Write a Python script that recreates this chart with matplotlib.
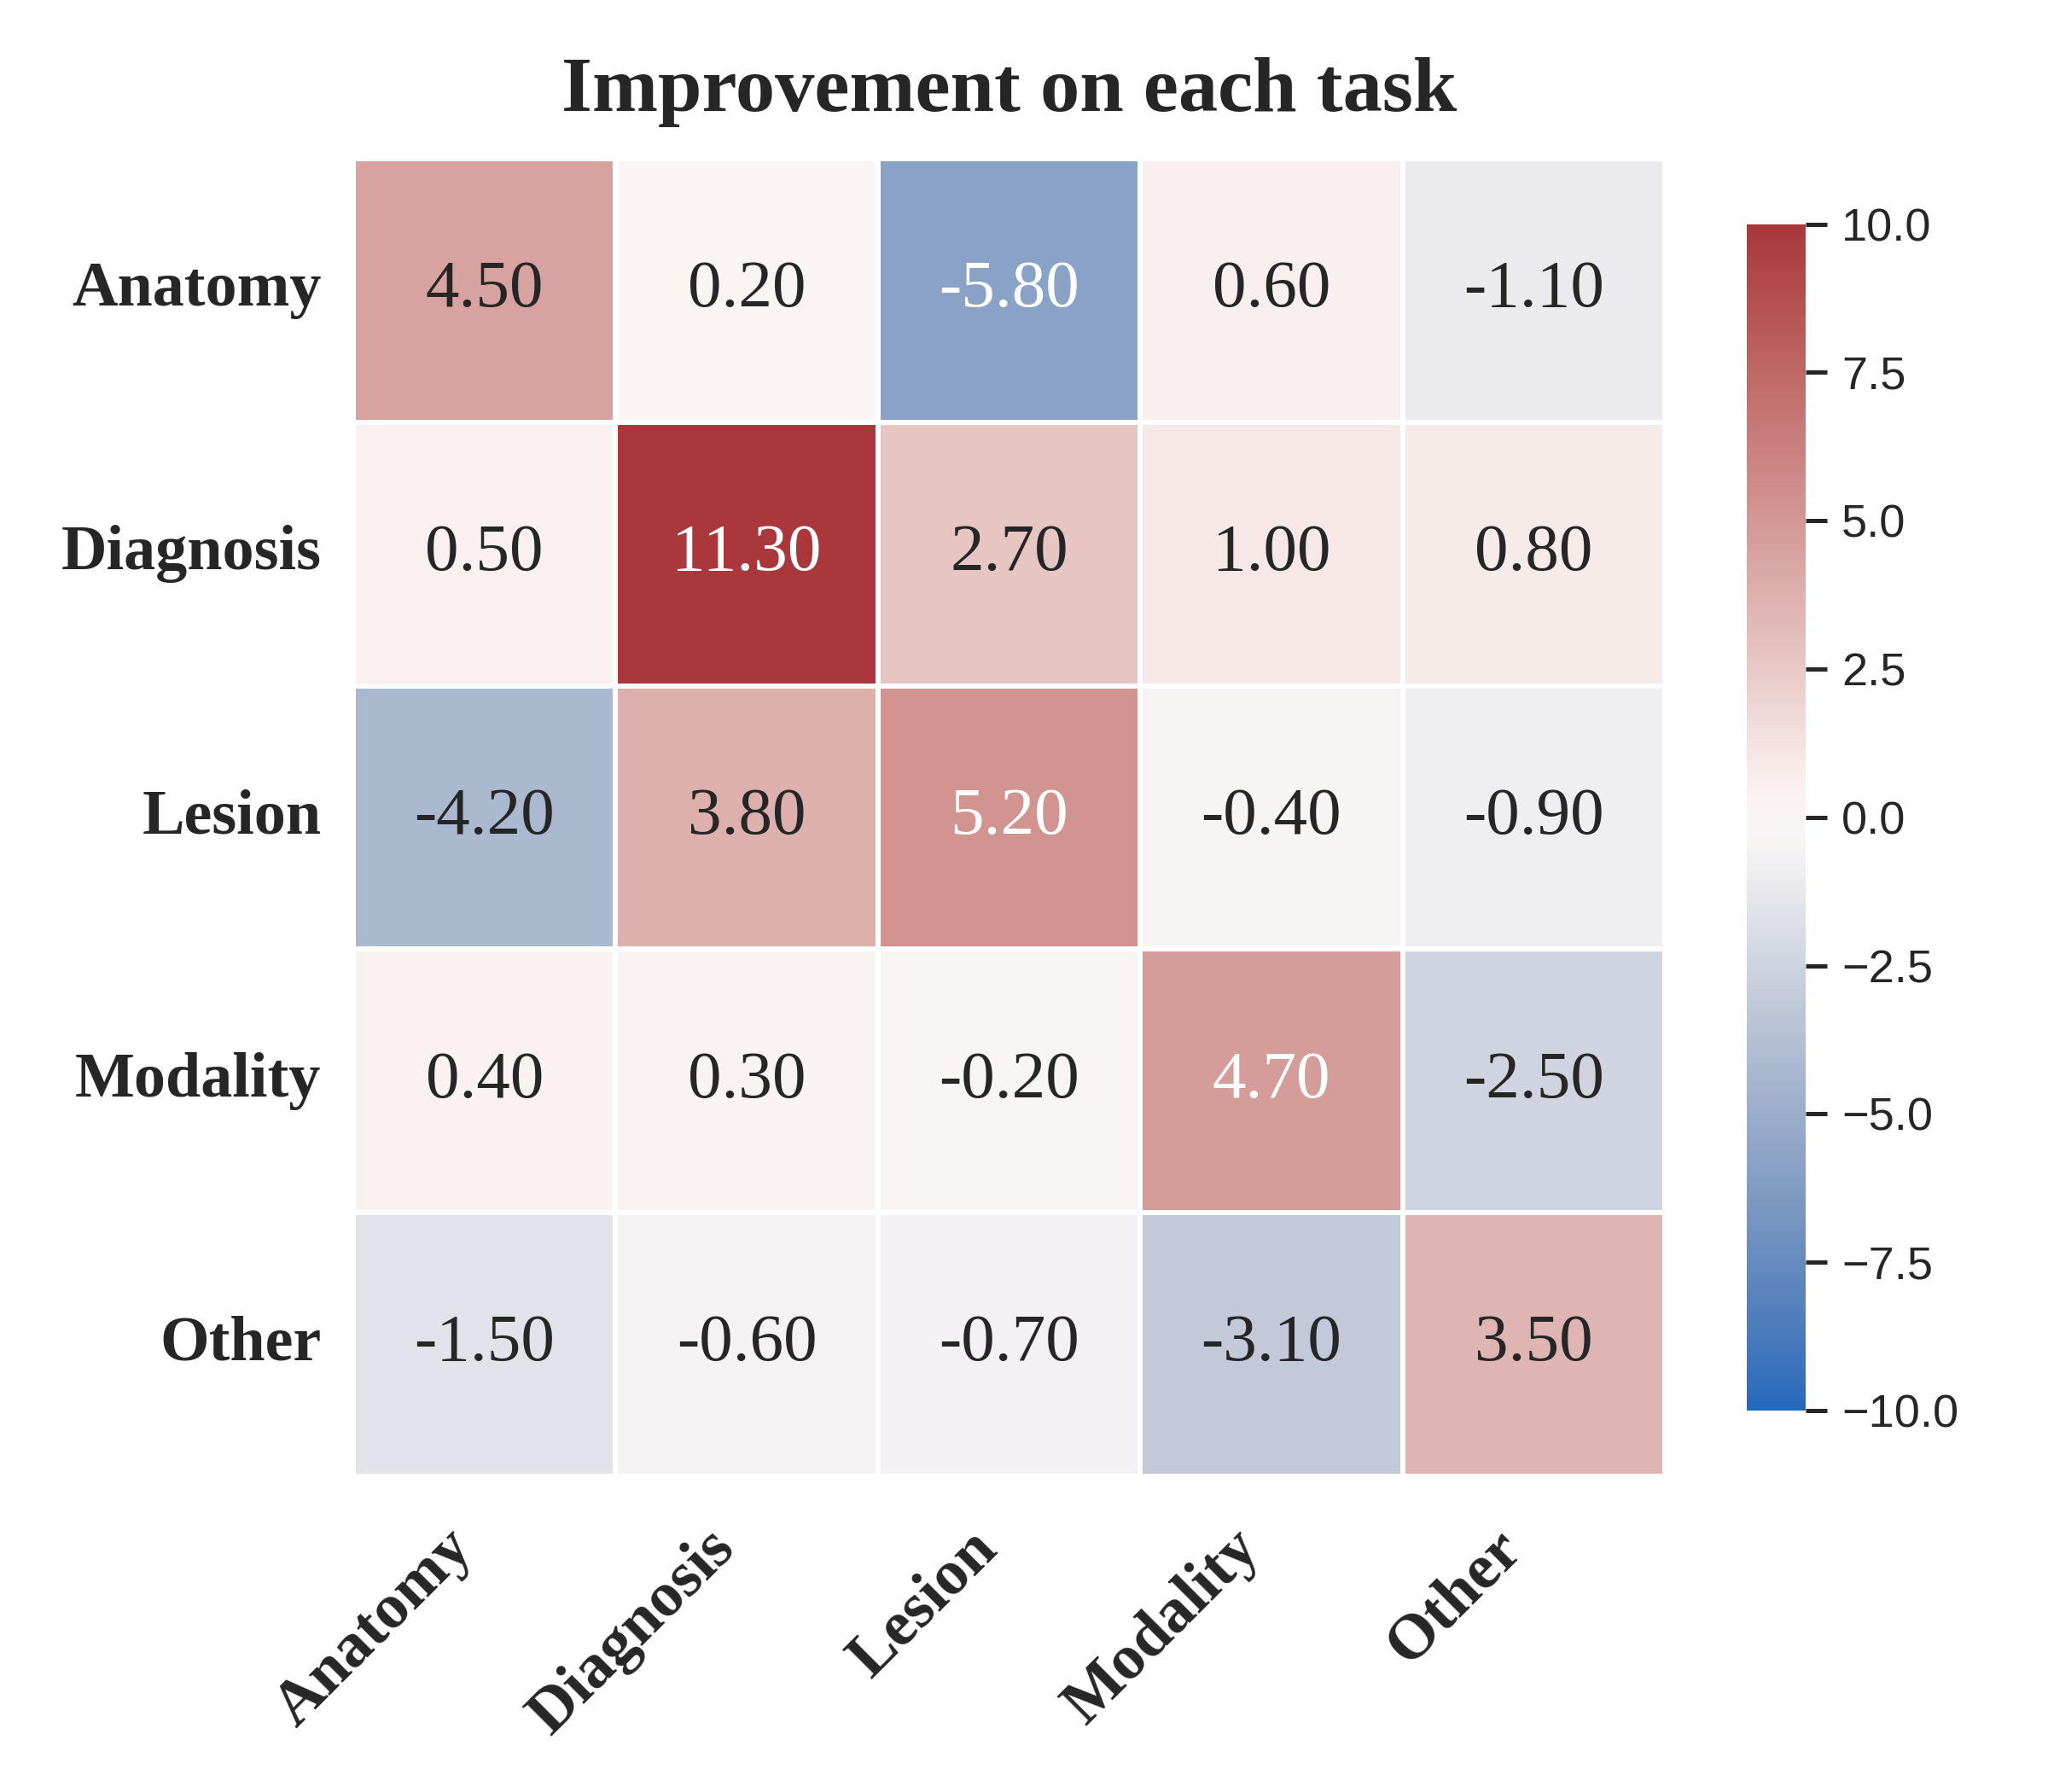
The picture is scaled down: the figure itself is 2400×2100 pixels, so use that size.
import numpy as np
import matplotlib
matplotlib.use("Agg")
import matplotlib.pyplot as plt
import seaborn as sns

# task categories and improvement values (rows vs cols)
tasks = ["Anatomy", "Diagnosis", "Lesion", "Modality", "Other"]
improvement = np.array([
    [4.5, 0.2, -5.8, 0.6, -1.1],
    [0.5, 11.3, 2.7, 1.0, 0.8],
    [-4.2, 3.8, 5.2, -0.4, -0.9],
    [0.4, 0.3, -0.2, 4.7, -2.5],
    [-1.5, -0.6, -0.7, -3.1, 3.5],
])
cbar_ticks = [-10.0, -7.5, -5.0, -2.5, 0.0, 2.5, 5.0, 7.5, 10.0]

sns.set_theme(style="white")
plt.rcParams["font.family"] = ["Liberation Serif", "DejaVu Serif"]

fig = plt.figure(figsize=(8, 7), dpi=300)
ax = fig.add_axes([0.1725, 0.1762, 0.6404, 0.7352])
cax = fig.add_axes([0.853, 0.2129, 0.0288, 0.662])

sns.heatmap(improvement, ax=ax, cbar_ax=cax, cmap="vlag", vmin=-10, vmax=10, center=0,
            annot=True, fmt=".2f", annot_kws={"fontsize": 19, "family": "Liberation Serif"},
            linewidths=1, linecolor="white",
            xticklabels=tasks, yticklabels=tasks)

ax.set_title("Improvement on each task", fontsize=22.2, fontweight="bold", pad=13.5)
ax.set_xticklabels(tasks, rotation=45, ha="right", fontsize=18, fontweight="bold")
ax.set_yticklabels(tasks, rotation=0, fontsize=17.8, fontweight="bold")
ax.tick_params(axis="x", length=0, pad=12)
ax.tick_params(axis="y", length=0, pad=9)

cax.set_yticks(cbar_ticks)
cax.tick_params(axis="y", right=True, length=6, width=1.2, color="#262626",
                labelsize=13, pad=4)
for lab in cax.get_yticklabels():
    lab.set_family(["Liberation Sans", "DejaVu Sans"])
for sp in cax.spines.values():
    sp.set_visible(False)

fig.savefig("out.png", dpi=300)
